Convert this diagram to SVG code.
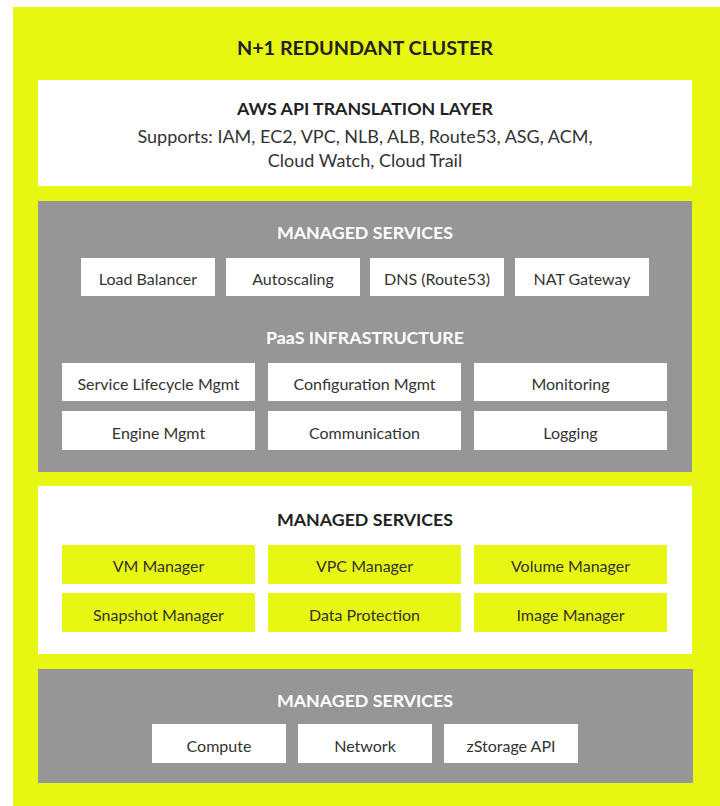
<svg xmlns="http://www.w3.org/2000/svg" width="720" height="806" viewBox="0 0 720 806">
<style>
text{font-family:Lato,"Liberation Sans",sans-serif;text-anchor:middle;dominant-baseline:central}
.h{font-weight:700;font-size:17.8px}
.hd{fill:#222}
.hw{fill:#fff}
.t{font-size:16px;fill:#333}
.w{fill:#fff}
.y{fill:#E8F712}
.g{fill:#969696}
</style>
<rect x="13" y="7" width="707" height="799" class="y"/>
<text x="365" y="47" class="h hd" style="font-size:19.8px">N+1 REDUNDANT CLUSTER</text>

<g id="aws-layer">
<rect x="38" y="80" width="654" height="106" class="w"/>
<text x="365" y="108" class="h hd">AWS API TRANSLATION LAYER</text>
<text x="365" y="136" class="t" style="font-size:18px">Supports: IAM, EC2, VPC, NLB, ALB, Route53, ASG, ACM,</text>
<text x="365" y="160" class="t" style="font-size:18px">Cloud Watch, Cloud Trail</text>
</g>

<g id="managed-services-1">
<rect x="38" y="201" width="654" height="271" class="g"/>
<text x="365" y="232" class="h hw">MANAGED SERVICES</text>
<g id="load-balancer"><rect x="81" y="258" width="134" height="38" class="w"/><text x="148" y="278" class="t">Load Balancer</text></g>
<g id="autoscaling"><rect x="226" y="258" width="134" height="38" class="w"/><text x="293" y="278" class="t">Autoscaling</text></g>
<g id="dns"><rect x="370" y="258" width="134" height="38" class="w"/><text x="437" y="278" class="t">DNS (Route53)</text></g>
<g id="nat-gateway"><rect x="515" y="258" width="134" height="38" class="w"/><text x="582" y="278" class="t">NAT Gateway</text></g>
<text x="365" y="337" class="h hw">PaaS INFRASTRUCTURE</text>
<g id="service-lifecycle"><rect x="62" y="363" width="193" height="38" class="w"/><text x="158.5" y="383" class="t">Service Lifecycle Mgmt</text></g>
<g id="configuration"><rect x="268" y="363" width="193" height="38" class="w"/><text x="364.5" y="383" class="t">Configuration Mgmt</text></g>
<g id="monitoring"><rect x="474" y="363" width="193" height="38" class="w"/><text x="570.5" y="383" class="t">Monitoring</text></g>
<g id="engine"><rect x="62" y="411" width="193" height="39" class="w"/><text x="158.5" y="432" class="t">Engine Mgmt</text></g>
<g id="communication"><rect x="268" y="411" width="193" height="39" class="w"/><text x="364.5" y="432" class="t">Communication</text></g>
<g id="logging"><rect x="474" y="411" width="193" height="39" class="w"/><text x="570.5" y="432" class="t">Logging</text></g>
</g>

<g id="managed-services-2">
<rect x="38" y="486" width="654" height="168" class="w"/>
<text x="365" y="519" class="h hd">MANAGED SERVICES</text>
<g id="vm-manager"><rect x="62" y="545" width="193" height="39" class="y"/><text x="158.5" y="565" class="t">VM Manager</text></g>
<g id="vpc-manager"><rect x="268" y="545" width="193" height="39" class="y"/><text x="364.5" y="565" class="t">VPC Manager</text></g>
<g id="volume-manager"><rect x="474" y="545" width="193" height="39" class="y"/><text x="570.5" y="565" class="t">Volume Manager</text></g>
<g id="snapshot-manager"><rect x="62" y="593" width="193" height="39" class="y"/><text x="158.5" y="614" class="t">Snapshot Manager</text></g>
<g id="data-protection"><rect x="268" y="593" width="193" height="39" class="y"/><text x="364.5" y="614" class="t">Data Protection</text></g>
<g id="image-manager"><rect x="474" y="593" width="193" height="39" class="y"/><text x="570.5" y="614" class="t">Image Manager</text></g>
</g>

<g id="managed-services-3">
<rect x="38" y="669" width="655" height="114" class="g"/>
<text x="365" y="700" class="h hw">MANAGED SERVICES</text>
<g id="compute"><rect x="152" y="724" width="134" height="39" class="w"/><text x="219" y="745" class="t">Compute</text></g>
<g id="network"><rect x="298" y="724" width="134" height="39" class="w"/><text x="365" y="745" class="t">Network</text></g>
<g id="zstorage"><rect x="444" y="724" width="134" height="39" class="w"/><text x="511" y="745" class="t">zStorage API</text></g>
</g>

<g id="connectors"></g>
</svg>
